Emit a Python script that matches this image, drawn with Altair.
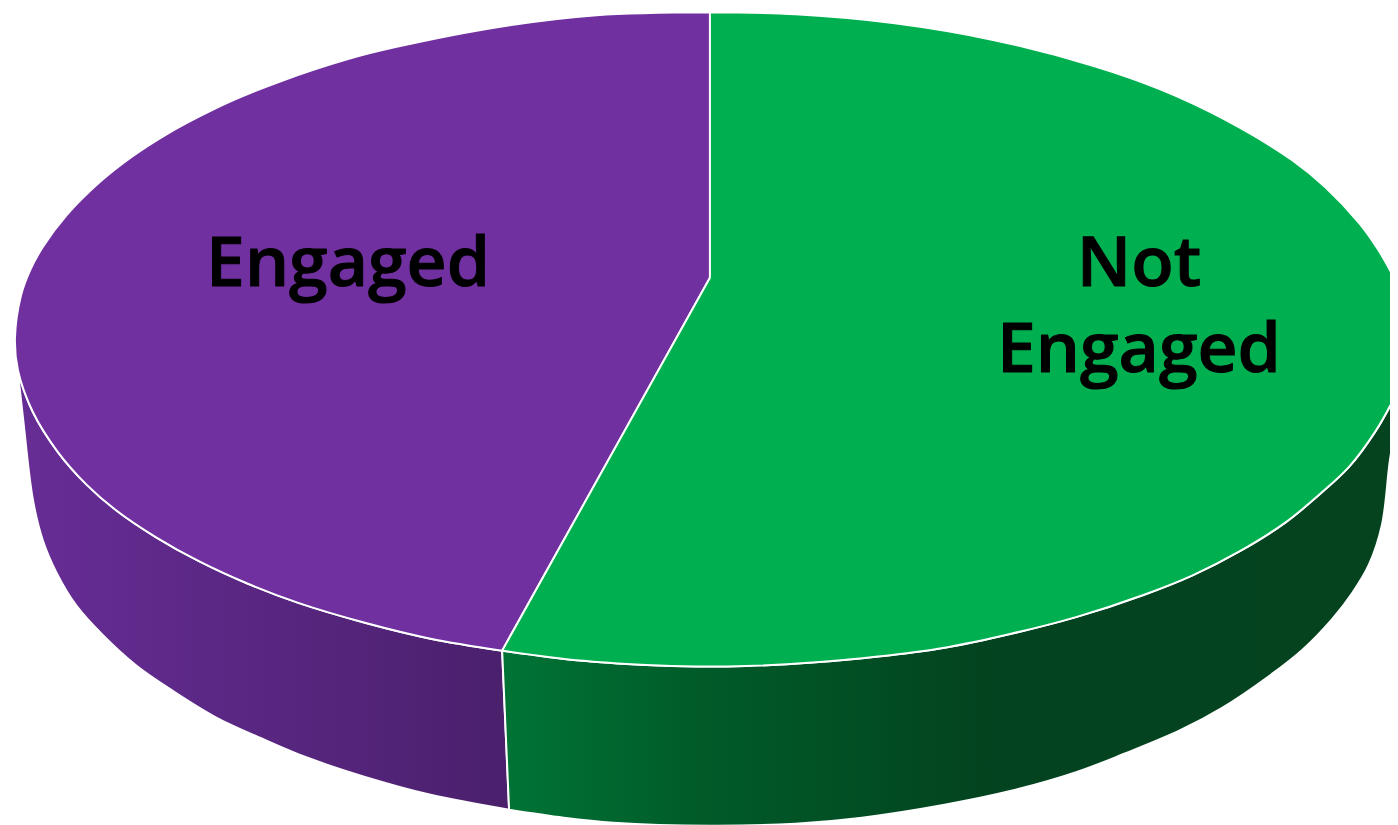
import altair as alt

# Outlines, in reference pixels
engaged_top_x = [714, 714, 600, 500, 400, 350, 283, 233, 200, 167, 133, 100, 67, 43, 30, 21, 15, 18, 33, 58, 87, 117, 157, 200, 250, 300, 367, 433, 505]
engaged_top_y = [277, 10, 13, 25, 44.5, 57, 79, 99, 115, 133, 155, 181, 214, 246, 270, 295, 338, 370, 412, 452, 485, 511, 538, 562, 585, 604, 624, 640, 652]
engaged_top_corners = [0, 1, 28]

not_engaged_top_x = [714, 714, 800, 900, 1000, 1100, 1167, 1233, 1300, 1333, 1367, 1385, 1395, 1405, 1413, 1405, 1398, 1383, 1357, 1327, 1293, 1247, 1200, 1150, 1083, 1017, 950, 883, 817, 750, 700, 650, 583, 505]
not_engaged_top_y = [277, 10, 12, 21, 38, 64, 87.5, 118.5, 159, 186, 222, 247, 264, 285, 338, 391, 406, 432, 467, 495, 523, 552, 576, 596, 618, 635, 649, 658, 664, 667.5, 668, 666.5, 662, 652]
not_engaged_top_corners = [0, 1, 33]

engaged_wall_x = [18, 33, 58, 87, 117, 157, 200, 250, 300, 367, 433, 505, 512, 433, 367, 310, 267, 217, 173, 137, 103, 77, 57, 43, 33, 23]
engaged_wall_y = [372, 412, 452, 485, 511, 538, 562, 585, 604, 624, 640, 652, 812, 797, 779, 760, 742, 719, 692, 667, 636, 607, 574, 541, 500, 417]
engaged_wall_corners = [0, 11, 12]

not_engaged_wall_x = [505, 583, 650, 700, 750, 817, 883, 950, 1017, 1083, 1150, 1200, 1247, 1293, 1327, 1357, 1383, 1398, 1405, 1405, 1398, 1390, 1377, 1360, 1340, 1310, 1273, 1230, 1187, 1130, 1083, 1017, 950, 867, 800, 714, 617, 567, 512]
not_engaged_wall_y = [652, 662, 666.5, 668, 667.5, 664, 658, 649, 635, 618, 596, 576, 552, 523, 495, 467, 432, 406, 391, 420, 460, 525, 565, 594, 620, 651, 680, 709, 732, 756, 774, 793, 807, 820, 826, 828, 825, 820, 812]
not_engaged_wall_corners = [0, 18, 19, 38]

label_text = ["Engaged", "Not\nEngaged"]
label_x = [350, 1145.5]
label_y = [285, 285]

PURPLE = "#7030A0"
GREEN = "#00B050"

X_SCALE = alt.Scale(domain=[8, 1398], range=[0, 1390])
Y_SCALE = alt.Scale(domain=[8, 825], range=[0, 817])


def rows(xs, ys, corners):
    out = []
    for i, (x, y) in enumerate(zip(xs, ys)):
        for _ in range(3 if i in corners else 1):
            out.append({"x": x, "y": y, "i": len(out)})
    first = out[0]
    out.append({"x": first["x"], "y": first["y"], "i": len(out)})
    return out


def shape(xs, ys, corners, fill):
    return alt.Chart(alt.Data(values=rows(xs, ys, corners))).mark_line(
        fill=fill, stroke="white", strokeWidth=2, strokeJoin="round",
        interpolate="catmull-rom", clip=False,
    ).encode(
        x=alt.X("x:Q", scale=X_SCALE, axis=None),
        y=alt.Y("y:Q", scale=Y_SCALE, axis=None),
        order=alt.Order("i:Q"),
    )


def grad(stops):
    return alt.Gradient(
        gradient="linear", x1=0, x2=1, y1=0, y2=0,
        stops=[alt.GradientStop(offset=o, color=c) for o, c in stops],
    )


engaged_wall = shape(engaged_wall_x, engaged_wall_y, engaged_wall_corners,
                     grad([(0, "#672D96"), (1, "#4A206C")]))
not_engaged_wall = shape(not_engaged_wall_x, not_engaged_wall_y, not_engaged_wall_corners,
                         grad([(0, "#007435"), (0.22, "#005B29"), (0.55, "#03431F"), (1, "#05431F")]))
engaged_top = shape(engaged_top_x, engaged_top_y, engaged_top_corners, PURPLE)
not_engaged_top = shape(not_engaged_top_x, not_engaged_top_y, not_engaged_top_corners, GREEN)

labels = alt.Chart(alt.Data(values=[
    {"t": t, "x": x, "y": y} for t, x, y in zip(label_text, label_x, label_y)
])).mark_text(
    font="Open Sans", fontWeight=600, fontSize=70, color="black", stroke="black", strokeWidth=1,
    align="center", baseline="alphabetic", lineBreak="\n", lineHeight=87,
).encode(
    x=alt.X("x:Q", scale=X_SCALE, axis=None),
    y=alt.Y("y:Q", scale=Y_SCALE, axis=None),
    text="t:N",
)

chart = alt.layer(engaged_wall, not_engaged_wall, engaged_top, not_engaged_top, labels).properties(
    width=1390, height=817, padding=0, background="white",
    autosize=alt.AutoSizeParams(type="none"),
).configure_view(stroke=None)

chart.save("out.html", embed_options={"renderer": "svg", "actions": False})
